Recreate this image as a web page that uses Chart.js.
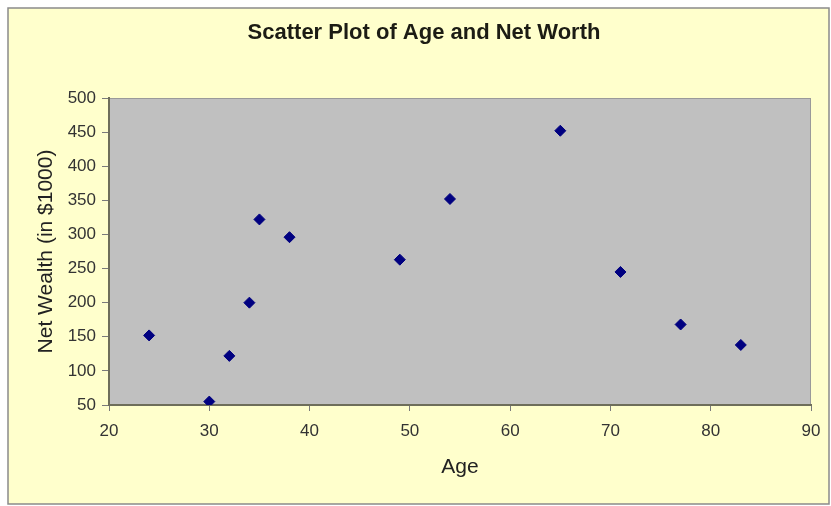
<!DOCTYPE html>
<html>
<head>
<meta charset="utf-8">
<script src="https://cdn.jsdelivr.net/npm/chart.js@4"></script>
<style>
  html, body { margin: 0; padding: 0; background: #fff; }
  canvas { display: block; }
</style>
</head>
<body>
<canvas id="grafico" width="831" height="506"></canvas>
<script>
// dados
const idades = [24, 30, 32, 34, 35, 38, 49, 54, 65, 71, 77, 83];
const patrimonio = [152, 55, 122, 200, 322, 296, 263, 352, 452, 245, 168, 138];

const xTicks = [20, 30, 40, 50, 60, 70, 80, 90];
const yTicks = [50, 100, 150, 200, 250, 300, 350, 400, 450, 500];

const titulo = "Scatter Plot of Age and Net Worth";

const pontos = idades.map((x, i) => ({ x, y: patrimonio[i] }));

const fonte = "'Liberation Sans', Arial, sans-serif";

// fundo amarelo com moldura + área cinza + título (um pouco à direita do centro)
const fundo = {
  id: "fundo",
  beforeDraw(chart) {
    const ctx = chart.ctx;
    const a = chart.chartArea;
    ctx.save();
    ctx.fillStyle = "#ffffff";
    ctx.fillRect(0, 0, chart.width, chart.height);
    ctx.fillStyle = "#ffffcc";
    ctx.fillRect(8, 8, 821, 496);
    ctx.strokeStyle = "#8a8a8a";
    ctx.lineWidth = 1.5;
    ctx.strokeRect(8, 8, 821, 496);
    ctx.fillStyle = "#c0c0c0";
    ctx.fillRect(a.left, a.top, a.right - a.left, a.bottom - a.top);
    ctx.strokeStyle = "#9a9a9a";
    ctx.lineWidth = 1;
    ctx.strokeRect(a.left + 0.5, a.top + 0.5, a.right - a.left - 1, a.bottom - a.top - 1);

    ctx.fillStyle = "#1c1c14";
    ctx.font = "bold 22px " + fonte;
    ctx.textAlign = "center";
    ctx.textBaseline = "middle";
    ctx.fillText(titulo, 424, 33);
    ctx.restore();
  }
};

new Chart(document.getElementById("grafico").getContext("2d"), {
  type: "scatter",
  data: {
    datasets: [{
      label: "Net Worth",
      data: pontos,
      pointStyle: "rectRot",
      pointRadius: 5.5,
      pointBackgroundColor: "#000080",
      pointBorderColor: "#000080",
      pointBorderWidth: 1
    }]
  },
  options: {
    responsive: false,
    animation: false,
    layout: { padding: { left: 10, right: 20, top: 98, bottom: 0 } },
    plugins: {
      legend: { display: false },
      tooltip: { enabled: false },
      title: { display: false }
    },
    scales: {
      x: {
        type: "linear",
        min: xTicks[0],
        max: xTicks[xTicks.length - 1],
        afterFit(s) { s.height = 101; },
        afterBuildTicks(s) { s.ticks = xTicks.map(v => ({ value: v })); },
        ticks: { color: "#333", font: { family: fonte, size: 17 }, padding: 10 },
        grid: { drawOnChartArea: false, drawTicks: true, tickLength: 6, color: "#7a7a7a" },
        border: { display: true, color: "#6e6e5a", width: 2 },
        title: {
          display: true,
          text: "Age",
          color: "#222",
          font: { family: fonte, size: 21 },
          padding: { top: 0, bottom: 26 }
        }
      },
      y: {
        type: "linear",
        min: yTicks[0],
        max: yTicks[yTicks.length - 1],
        afterFit(s) { s.width = 99; },
        afterBuildTicks(s) { s.ticks = yTicks.map(v => ({ value: v })); },
        ticks: { color: "#333", font: { family: fonte, size: 17 }, padding: 6 },
        grid: { drawOnChartArea: false, drawTicks: true, tickLength: 7, color: "#7a7a7a" },
        border: { display: true, color: "#6e6e5a", width: 2 },
        title: {
          display: true,
          text: "Net Wealth (in $1000)",
          color: "#222",
          font: { family: fonte, size: 21 },
          padding: { top: 24, bottom: 0 }
        }
      }
    }
  },
  plugins: [fundo]
});
</script>
</body>
</html>
